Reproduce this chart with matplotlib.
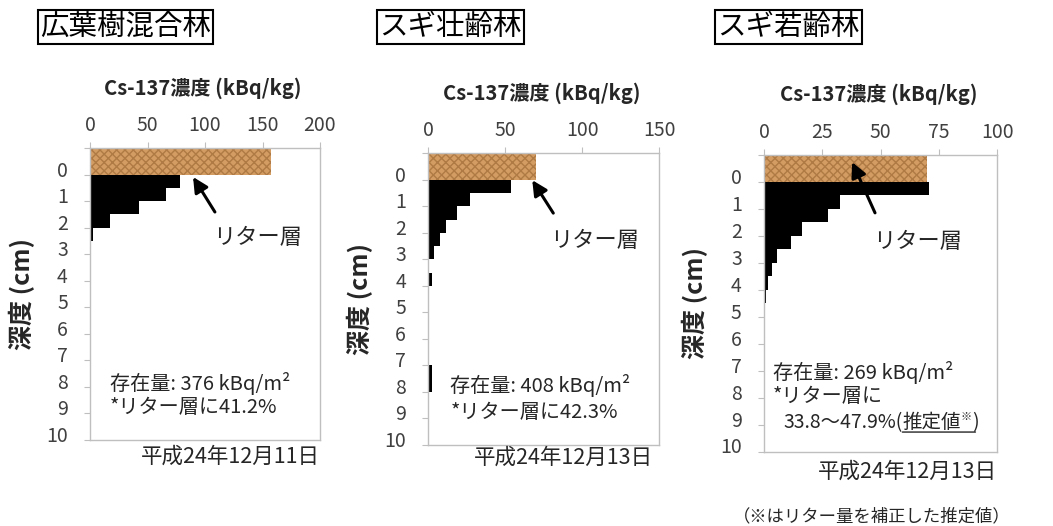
import matplotlib
matplotlib.use("Agg")
import matplotlib.pyplot as plt
import numpy as np

plt.rcParams['font.family'] = ['Noto Sans CJK JP', 'DejaVu Sans']

# 林分ごとのデータ
forest_names = ['広葉樹混合林', 'スギ壮齢林', 'スギ若齢林']
survey_dates = ['平成24年12月11日', '平成24年12月13日', '平成24年12月13日']
litter_conc = [157, 70, 70]          # リター層 Cs-137濃度 (kBq/kg)
layer_step = 0.5                      # 土壌層の厚さ (cm)
soil_conc_1 = [78, 66, 43, 17, 2.3, 1.0]
soil_conc_2 = [54, 27, 18.6, 11.5, 7.8, 3.9, 0, 2.5,
               0.5, 0.5, 0.5, 0.5, 0.5, 0.5, 2.5, 2.5]
soil_conc_3 = [70.7, 32.6, 27.6, 16.1, 11.4, 5.4, 3.6, 1.9, 0.7]
soil_conc = [soil_conc_1, soil_conc_2, soil_conc_3]
x_max = [200, 150, 100]
x_step = [50, 50, 25]
inventory = [376, 408, 269]
litter_share = ['41.2%', '42.3%', None]
depth_labels = [str(i) for i in range(11)]

fig = plt.figure(figsize=(10.53, 5.26), dpi=100)

# 軸の位置 (図の割合)
ax_pos = [[0.0855, 0.1635, 0.2184, 0.555],
          [0.4068, 0.154, 0.2193, 0.5545],
          [0.7255, 0.1413, 0.2216, 0.564]]
title_x = [40, 379, 717]

grey = '#bfbfbf'
txt = '#404040'
dark = '#262626'

for i in range(3):
    ax = fig.add_axes(ax_pos[i])
    vals = soil_conc[i]
    centers = np.arange(len(vals)) * layer_step + layer_step / 2
    ax.barh(centers, vals, height=layer_step, color='black', linewidth=0)
    ax.barh([-0.5], [litter_conc[i]], height=1.0, color='#d29c63',
            edgecolor='#b07a45', hatch='xxxx', linewidth=0)

    ax.set_xlim(0, x_max[i])
    ax.set_ylim(10, -1)
    ax.xaxis.tick_top()
    ax.set_xticks(np.arange(0, x_max[i] + 1, x_step[i]))
    ax.set_yticks(np.arange(-1, 11))
    ax.set_yticklabels([])
    ax.set_yticks(np.arange(11) - 0.23, minor=True)
    ax.set_yticklabels(depth_labels, minor=True)
    ax.tick_params(axis='y', which='minor', length=0, labelsize=14,
                   labelcolor=txt, pad=16)
    ax.tick_params(axis='y', which='major', length=4, color=grey)
    ax.tick_params(axis='x', length=4, color=grey, labelsize=14,
                   labelcolor=txt, pad=5)
    for s in ax.spines.values():
        s.set_color(grey)
        s.set_linewidth(1.0)

    ax.text(0.49, 1.205, 'Cs-137濃度 (kBq/kg)', transform=ax.transAxes,
            ha='center', va='center', fontsize=14.5, fontweight='bold',
            color=dark)
    ax.text(-0.295, 0.5, '深度 (cm)', transform=ax.transAxes, rotation=90,
            ha='center', va='center', fontsize=18, fontweight='bold',
            color=dark)

    date_x = [1.0, 0.974, 1.0][i]
    date_y = [-0.058, -0.045, -0.067][i]
    ax.text(date_x, date_y, survey_dates[i], transform=ax.transAxes,
            ha='right', va='center', fontsize=15.5, color=dark)

    # リター層の矢印
    tail = [(0.543, 0.781), (0.541, 0.795), (0.476, 0.805)][i]
    tip = [(0.448, 0.901), (0.45, 0.908), (0.378, 0.976)][i]
    lab = [(0.535, 0.692), (0.528, 0.702), (0.468, 0.707)][i]
    ax.annotate('', xy=tip, xytext=tail, xycoords='axes fraction',
                textcoords='axes fraction',
                arrowprops=dict(arrowstyle='-|>,head_length=0.9,head_width=0.45',
                                color='black', lw=2.2, shrinkA=0, shrinkB=0))
    ax.text(lab[0], lab[1], 'リター層', transform=ax.transAxes,
            ha='left', va='center', fontsize=16, color=dark)

    # 存在量
    ann_x = [0.087, 0.095, 0.039][i]
    ann_y = [(0.195, 0.110), (0.205, 0.113), (0.266, 0.185)][i]
    ax.text(ann_x, ann_y[0], f'存在量: {inventory[i]} kBq/m²',
            transform=ax.transAxes, ha='left', va='center', fontsize=14.5,
            color=dark)
    if litter_share[i] is not None:
        ax.text(ann_x, ann_y[1], f'*リター層に{litter_share[i]}',
                transform=ax.transAxes, ha='left', va='center',
                fontsize=14.5, color=dark)
    else:
        ax.text(ann_x, ann_y[1], '*リター層に', transform=ax.transAxes,
                ha='left', va='center', fontsize=14.5, color=dark)
        t1 = ax.text(0.082, 0.098, '33.8～47.9%(', transform=ax.transAxes,
                     ha='left', va='center', fontsize=14, color=dark)
        t2 = ax.annotate('推定値', xy=(1, 0), xycoords=t1, ha='left',
                         va='bottom', fontsize=14, color=dark)
        t3 = ax.annotate('※', xy=(1, 1), xycoords=t2, ha='left', va='top',
                         fontsize=8, color=dark)
        t4 = ax.annotate(')', xy=(1, 0), xycoords=t2, xytext=(8, 0),
                         textcoords='offset points', ha='left', va='bottom',
                         fontsize=14, color=dark)
        ax.annotate('', xy=(0, 0.05), xycoords=t2, xytext=(1.25, 0.05),
                    textcoords=t2,
                    arrowprops=dict(arrowstyle='-', color=dark, lw=1,
                                    shrinkA=0, shrinkB=0))

    fig.text(title_x[i] / 1053, 1 - 27 / 526, forest_names[i], ha='left',
             va='center', fontsize=20.5, color='black',
             bbox=dict(boxstyle='square,pad=0.08', facecolor='white',
                       edgecolor='black', linewidth=1.5))

fig.text(872 / 1053, 1 - 516 / 526, '（※はリター量を補正した推定値）',
         ha='center', va='center', fontsize=12.5, color=dark)

fig.savefig('out.png', dpi=100)
